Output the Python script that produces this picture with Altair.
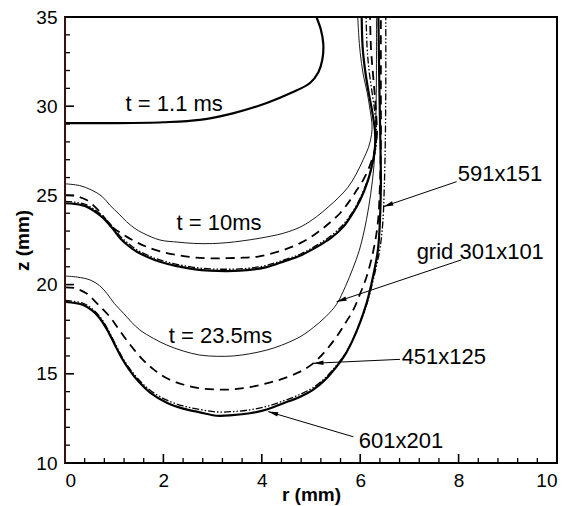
import math
import altair as alt
import pandas as pd

# ---------------- data ----------------
# t = 1.1 ms (single curve)
t1_r = [0, 1.0, 2.0, 2.74, 3.41, 4.1, 4.6, 4.98, 5.15, 5.23, 5.25, 5.2, 5.11]
t1_z = [29.05, 29.05, 29.1, 29.23, 29.6, 30.18, 30.75, 31.3, 31.9, 32.6, 33.5, 34.3, 35.0]

# t = 10 ms
t10_thin_r = [0, 0.3, 0.54, 0.75, 0.91, 1.1, 1.25, 1.42, 1.59, 1.93, 2.3, 2.61, 3.0, 3.29, 3.6, 3.96,
              4.44, 4.8, 5.11, 5.35, 5.55, 5.75, 5.92, 6.06, 6.17, 6.23, 6.24, 6.2, 6.14, 6.06, 6.0, 5.97, 5.95]
t10_thin_z = [25.65, 25.55, 25.3, 24.95, 24.46, 23.95, 23.53, 23.15, 22.88, 22.5, 22.38, 22.31, 22.3, 22.35,
              22.45, 22.6, 22.88, 23.25, 23.8, 24.35, 24.85, 25.45, 26.2, 27.0, 27.7, 28.4, 29.0, 29.8, 30.8,
              31.8, 33.0, 34.0, 35.0]
t10_dash_r = [0, 0.2, 0.44, 0.7, 0.91, 1.1, 1.25, 1.45, 1.66, 1.95, 2.27, 2.6, 2.95, 3.3, 3.62, 3.9, 4.44,
              4.8, 5.11, 5.35, 5.59, 5.8, 5.93, 6.06, 6.2, 6.3, 6.34, 6.33, 6.3, 6.26, 6.22, 6.2]
t10_dash_z = [25.02, 24.98, 24.74, 24.1, 23.34, 22.95, 22.69, 22.38, 22.12, 21.85, 21.66, 21.53, 21.47, 21.48,
              21.51, 21.56, 21.94, 22.35, 22.88, 23.4, 24.0, 24.75, 25.3, 25.86, 26.7, 27.6, 28.4, 29.3, 30.5,
              31.8, 33.2, 35.0]
t10_dd_r = [0, 0.2, 0.44, 0.6, 0.78, 0.95, 1.12, 1.3, 1.46, 1.7, 1.93, 2.25, 2.61, 2.95, 3.29, 3.55, 3.83,
            4.1, 4.44, 4.8, 5.11, 5.4, 5.66, 5.85, 6.0, 6.15, 6.25, 6.32, 6.33, 6.3, 6.24, 6.18, 6.14, 6.12]
t10_dd_z = [24.66, 24.62, 24.47, 24.2, 23.82, 23.3, 22.72, 22.27, 21.95, 21.62, 21.38, 21.15, 20.97, 20.88,
            20.86, 20.88, 20.95, 21.08, 21.37, 21.73, 22.2, 22.72, 23.38, 24.1, 24.85, 25.86, 26.8, 27.7,
            28.6, 29.6, 30.8, 32.0, 33.3, 35.0]
t10_thick_r = [0, 0.2, 0.44, 0.6, 0.78, 0.95, 1.12, 1.3, 1.46, 1.7, 1.93, 2.25, 2.61, 2.95, 3.29, 3.55, 3.83,
               4.1, 4.44, 4.8, 5.11, 5.4, 5.66, 5.85, 6.0, 6.16, 6.25, 6.3, 6.3, 6.25, 6.17, 6.1, 6.05, 6.03]
t10_thick_z = [24.56, 24.52, 24.37, 24.1, 23.72, 23.2, 22.6, 22.15, 21.84, 21.52, 21.28, 21.05, 20.87, 20.78,
               20.76, 20.78, 20.85, 20.98, 21.29, 21.65, 22.1, 22.6, 23.25, 24.0, 24.74, 25.86, 26.8, 27.7,
               28.6, 29.6, 30.8, 32.0, 33.3, 35.0]

# t = 23.5 ms
t23_thin_r = [0, 0.25, 0.51, 0.7, 0.85, 1.0, 1.19, 1.35, 1.52, 1.8, 2.07, 2.4, 2.74, 3.1, 3.42, 3.75, 4.1,
              4.4, 4.78, 5.05, 5.3, 5.52, 5.7, 5.85, 5.98, 6.08, 6.17, 6.25, 6.3, 6.32, 6.33, 6.33]
t23_thin_z = [20.48, 20.42, 20.26, 19.95, 19.51, 18.95, 18.39, 17.9, 17.46, 16.98, 16.61, 16.28, 16.05, 15.98,
              16.0, 16.12, 16.33, 16.6, 17.08, 17.6, 18.2, 18.9, 19.9, 20.9, 21.9, 23.0, 24.3, 25.86, 27.5,
              29.5, 32.0, 35.0]
t23_dash_r = [0, 0.2, 0.44, 0.65, 0.91, 1.08, 1.25, 1.42, 1.59, 1.8, 2.07, 2.4, 2.74, 3.1, 3.42, 3.75, 4.1,
              4.4, 4.78, 5.05, 5.3, 5.52, 5.7, 5.86, 6.0, 6.13, 6.27, 6.36, 6.4, 6.42, 6.42, 6.42]
t23_dash_z = [19.85, 19.8, 19.5, 18.95, 18.2, 17.55, 16.9, 16.3, 15.77, 15.25, 14.75, 14.4, 14.19, 14.12,
              14.13, 14.25, 14.47, 14.7, 15.12, 15.6, 16.3, 17.08, 17.85, 18.58, 19.5, 20.44, 21.94, 23.5,
              25.5, 28.0, 31.0, 35.0]
t23_dd_r = [0, 0.37, 0.55, 0.71, 0.86, 1.0, 1.15, 1.3, 1.5, 1.73, 2.07, 2.4, 2.74, 3.08, 3.4, 3.76, 4.1, 4.44,
            4.78, 5.04, 5.3, 5.52, 5.7, 5.85, 6.0, 6.14, 6.28, 6.4, 6.46, 6.49, 6.51, 6.52, 6.52]
t23_dd_z = [19.12, 18.95, 18.65, 18.2, 17.55, 16.8, 16.0, 15.35, 14.67, 14.08, 13.52, 13.2, 13.0, 12.86, 12.88,
            12.98, 13.17, 13.48, 13.85, 14.22, 14.8, 15.48, 16.15, 16.92, 17.9, 18.96, 20.44, 22.0, 23.5,
            25.5, 28.0, 31.0, 35.0]
t23_thick_r = [0, 0.37, 0.55, 0.71, 0.86, 1.0, 1.15, 1.3, 1.5, 1.73, 2.07, 2.4, 2.74, 3.08, 3.4, 3.76, 4.1,
               4.44, 4.78, 5.04, 5.3, 5.52, 5.7, 5.85, 6.0, 6.13, 6.26, 6.36, 6.4, 6.42, 6.41, 6.39, 6.37]
t23_thick_z = [19.04, 18.86, 18.55, 18.1, 17.45, 16.7, 15.9, 15.25, 14.55, 13.95, 13.38, 13.05, 12.84, 12.65,
               12.68, 12.79, 13.0, 13.35, 13.72, 14.1, 14.7, 15.4, 16.1, 16.9, 17.9, 18.96, 20.44, 21.94,
               23.5, 25.5, 28.0, 31.0, 35.0]

# text annotations
label_text = ["t = 1.1 ms", "t = 10ms", "t = 23.5ms", "591x151", "grid 301x101", "451x125", "601x201"]
label_r = [2.22, 3.13, 3.16, 8.84, 8.44, 7.70, 6.83]
label_z = [30.12, 23.45, 17.12, 26.2, 21.83, 15.94, 11.23]

# arrows (start -> tip)
arrow_r0 = [7.96, 8.06, 6.81, 5.86]
arrow_z0 = [25.77, 21.39, 15.81, 11.47]
arrow_r1 = [6.47, 5.52, 5.05, 4.13]
arrow_z1 = [24.37, 19.04, 15.59, 12.88]

# axis ticks
x_major = [0, 2, 4, 6, 8, 10]
x_minor = [0.4, 0.8, 1.2, 1.6, 2.4, 2.8, 3.2, 3.6, 4.4, 4.8, 5.2, 5.6, 6.4, 6.8, 7.2, 7.6, 8.4, 8.8, 9.2, 9.6]
y_major = [10, 15, 20, 25, 30, 35]
y_minor = [11, 12, 13, 14, 16, 17, 18, 19, 21, 22, 23, 24, 26, 27, 28, 29, 31, 32, 33, 34]

# ---------------- build ----------------
W, H = 492, 446
curves = [
    ("t1", "thick", t1_r, t1_z),
    ("t10_thin", "thin", t10_thin_r, t10_thin_z),
    ("t10_dash", "dash", t10_dash_r, t10_dash_z),
    ("t10_dd", "dd", t10_dd_r, t10_dd_z),
    ("t10_thick", "thick", t10_thick_r, t10_thick_z),
    ("t23_thin", "thin", t23_thin_r, t23_thin_z),
    ("t23_dash", "dash", t23_dash_r, t23_dash_z),
    ("t23_dd", "dd", t23_dd_r, t23_dd_z),
    ("t23_thick", "thick", t23_thick_r, t23_thick_z),
]
rows = []
for name, style, rs, zs in curves:
    for i, (r, z) in enumerate(zip(rs, zs)):
        rows.append({"curve": name, "style": style, "i": i, "r": r, "z": z})
df = pd.DataFrame(rows)

FONT = "Liberation Sans"
xs = alt.Scale(domain=[0, 10], nice=False, zero=False)
ys = alt.Scale(domain=[10, 35], nice=False, zero=False)
xaxis = alt.Axis(values=x_major, title="r (mm)", labelPadding=8, titleBaseline="alphabetic", titleY=37)
yaxis = alt.Axis(values=y_major, title="z (mm)", labelPadding=8, titleX=-43, titleBaseline="middle")


def X(f):
    return alt.X(f, type="quantitative", scale=xs, axis=xaxis)


def Y(f):
    return alt.Y(f, type="quantitative", scale=ys, axis=yaxis)


def curve_layer(style, width, dash=None):
    kw = dict(strokeWidth=width, color="black", interpolate="catmull-rom", clip=True)
    if dash:
        kw["strokeDash"] = dash
    return alt.Chart(df).transform_filter(alt.datum.style == style).mark_line(**kw).encode(
        x=X("r"), y=Y("z"), detail="curve:N", order="i:Q")


thin = curve_layer("thin", 0.9)
dash = curve_layer("dash", 1.8, [9, 6])
dd = curve_layer("dd", 1.3, [7, 2, 1.5, 2, 1.5, 2])
thick = curve_layer("thick", 2.2)

xt_major = alt.Chart(pd.DataFrame({"v": x_major})).mark_rule(color="black", strokeWidth=1.6).encode(
    x=X("v"), y=alt.value(H), y2=alt.value(H - 9))
xt_minor = alt.Chart(pd.DataFrame({"v": x_minor})).mark_rule(color="black", strokeWidth=1.3).encode(
    x=X("v"), y=alt.value(H), y2=alt.value(H - 5))
yt_major = alt.Chart(pd.DataFrame({"v": y_major})).mark_rule(color="black", strokeWidth=1.6).encode(
    y=Y("v"), x=alt.value(0), x2=alt.value(9))
yt_minor = alt.Chart(pd.DataFrame({"v": y_minor})).mark_rule(color="black", strokeWidth=1.3).encode(
    y=Y("v"), x=alt.value(0), x2=alt.value(5))

left_edge = alt.Chart(pd.DataFrame({"v": [10]})).mark_rule(color="#3a1212", strokeWidth=2).encode(
    x=alt.value(0), y=alt.value(0), y2=alt.value(H))

labels = alt.Chart(pd.DataFrame({"t": label_text, "r": label_r, "z": label_z})).mark_text(
    font=FONT, fontSize=22, align="center", baseline="middle", color="black").encode(
    x=X("r"), y=Y("z"), text="t:N")

sx, sy = W / 10.0, H / 25.0
angles = [math.degrees(math.atan2((r1 - r0) * sx, (z1 - z0) * sy)) % 360
          for r0, z0, r1, z1 in zip(arrow_r0, arrow_z0, arrow_r1, arrow_z1)]
adf = pd.DataFrame({"r0": arrow_r0, "z0": arrow_z0, "r1": arrow_r1, "z1": arrow_z1, "ang": angles})
arrow_lines = alt.Chart(adf).mark_rule(color="black", strokeWidth=1).encode(
    x=X("r0"), y=Y("z0"), x2="r1", y2="z1")
arrow_heads = alt.Chart(adf).mark_point(
    shape="M0,0L0.45,2L-0.45,2Z", filled=True, size=100, color="black", opacity=1, strokeWidth=0).encode(
    x=X("r1"), y=Y("z1"), angle=alt.Angle("ang:Q", scale=None))

chart = alt.layer(
    thin, dash, dd, thick, xt_major, xt_minor, yt_major, yt_minor, left_edge,
    labels, arrow_lines, arrow_heads
).properties(
    width=W, height=H,
    autosize=alt.AutoSizeParams(type="none"),
    padding={"left": 65, "top": 17, "right": 10, "bottom": 43},
).configure_view(
    stroke="black", strokeWidth=2
).configure_axis(
    grid=False, domain=False, ticks=False,
    labelFont=FONT, labelFontSize=19, labelColor="black",
    titleFont=FONT, titleFontSize=19, titleFontWeight="bold", titleColor="black",
)

chart.save("out.html", embed_options={"renderer": "svg", "actions": False})
